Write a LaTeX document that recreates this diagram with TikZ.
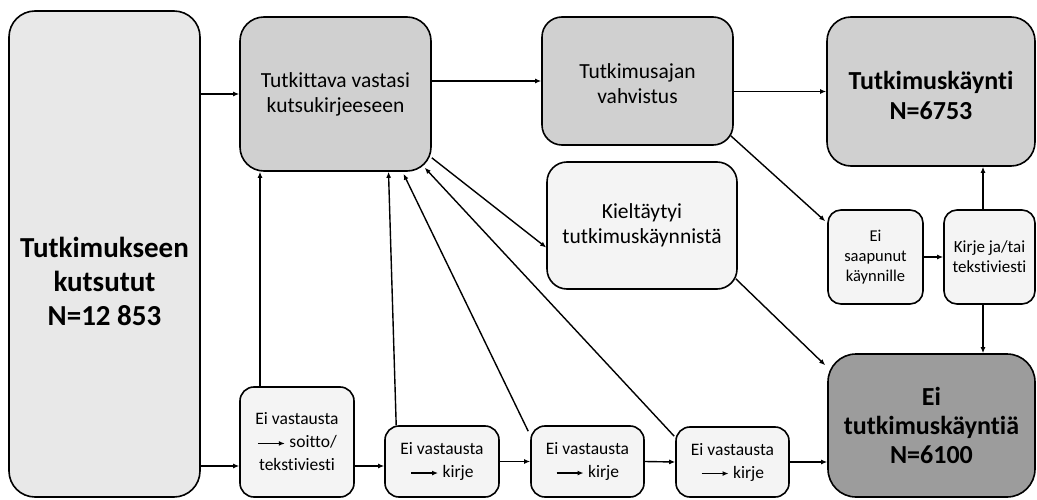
\documentclass[tikz,border=0pt]{standalone}
\usepackage{fontspec}
\setmainfont{Carlito}[Ligatures=NoCommon]
\usetikzlibrary{arrows.meta}
\definecolor{boxlight}{HTML}{E8E8E8}
\definecolor{boxmid}{HTML}{D0D0D0}
\definecolor{boxpale}{HTML}{F4F4F4}
\definecolor{boxdark}{HTML}{9C9C9C}
% short arrow set inside the text of the small boxes
\newcommand{\inarrow}{\tikz[x=1pt,y=1pt,baseline=0pt]\draw[line width=1.3pt,-{Latex[length=6pt,width=5pt]}] (0,4.5)--(27,4.5);}
\begin{document}
\begin{tikzpicture}[x=1pt,y=-1pt,
  box/.style={draw=black, line width=1.6pt, align=center, inner sep=2pt, rounded corners=#1},
  box/.default=20pt,
  flow/.style={line width=1.4pt, -{Latex[length=6pt,width=5pt]}},
  bigtxt/.style={font=\fontsize{29}{34}\selectfont\bfseries, align=center},
  boldtxt/.style={font=\fontsize{26}{29}\selectfont\bfseries, align=center},
  midtxt/.style={font=\fontsize{21.5}{25}\selectfont, align=center},
  smalltxt/.style={font=\fontsize{17.5}{23}\selectfont},
  tinytxt/.style={font=\fontsize{16.5}{20}\selectfont}]
\useasboundingbox (0,0) rectangle (1037,500);

% boxes
\node[box=26pt, fill=boxlight, minimum width=191pt, minimum height=486pt] (big) at (104.5,254) {};
\node[bigtxt] (bigtext) at (104.5,281) {Tutkimukseen\\kutsutut\\N=12 853};
\node[box=24pt, fill=boxmid, minimum width=191pt, minimum height=154pt, midtxt] (tut) at (335.5,94) {Tutkittava vastasi\\kutsukirjeeseen};
\node[box=20pt, fill=boxmid, minimum width=191pt, minimum height=128pt] (aja) at (637.5,81) {};
\node[midtxt] (ajatext) at (637.5,84) {Tutkimusajan\\vahvistus};
\node[box=24pt, fill=boxmid, minimum width=208pt, minimum height=149pt] (kay) at (931,91.5) {};
\node[boldtxt, font=\fontsize{26}{30}\selectfont\bfseries] (kaytext) at (931,95) {Tutkimuskäynti\\N=6753};
\node[box=20pt, fill=boxpale, minimum width=190pt, minimum height=127pt, midtxt] (kie) at (642,225.5) {Kieltäytyi\\tutkimuskäynnistä};
\node[box=13pt, fill=boxpale, minimum width=95pt, minimum height=94pt, tinytxt] (sa) at (875.5,257) {Ei\\saapunut\\käynnille};
\node[box=13pt, fill=boxpale, minimum width=91pt, minimum height=94pt, tinytxt, font=\fontsize{17}{20}\selectfont] (kir) at (989.5,257) {Kirje ja/tai\\tekstiviesti};
\node[box=28pt, fill=boxdark, minimum width=207pt, minimum height=143pt, boldtxt] (eik) at (931.5,425.5) {Ei\\tutkimuskäyntiä\\N=6100};
\node[box=14pt, fill=boxpale, minimum width=114pt, minimum height=110pt, smalltxt] (s0) at (297,442) {Ei vastausta\\\inarrow\ soitto/\\tekstiviesti};
\node[box=14pt, fill=boxpale, minimum width=114pt, minimum height=71pt, smalltxt] (k1) at (442,461.5) {Ei vastausta\\\inarrow\ kirje};
\node[box=14pt, fill=boxpale, minimum width=113pt, minimum height=71pt, smalltxt] (k2) at (587.5,461.5) {Ei vastausta\\\inarrow\ kirje};
\node[box=14pt, fill=boxpale, minimum width=113pt, minimum height=70pt, smalltxt] (k3) at (732.5,462) {Ei vastausta\\\inarrow\ kirje};

% helper coordinates for connector rows and columns
\coordinate (row) at (0,466);
\coordinate (col) at (260,0);
\coordinate (kcol) at (983,0);

% connectors
\draw[flow] (big.east |- tut.west) -- (tut.west);
\draw[flow] (big.east |- row) -- (s0.west |- row);
\draw[flow] (s0.east |- row) -- (k1.west |- row);
\draw[flow] (k1.east) -- (k2.west);
\draw[flow] (k2.east) -- (k3.west);
\draw[flow] (k3.east) -- (eik.west |- k3.east);
\draw[flow] (s0.north -| col) -- (tut.south -| col);
\draw[flow] ([xshift=12pt]k1.north west) -- ([xshift=53pt]tut.south);
\draw[flow] ([xshift=-2pt,yshift=-6pt]k2.north west) -- ([xshift=68pt,yshift=-2pt]tut.south);
\draw[flow] ([xshift=-1pt,yshift=-10pt]k3.north west) -- ([xshift=-7pt,yshift=4pt]tut.south east);
\draw[flow] ([yshift=14pt]tut.south east) -- ([yshift=-22pt]kie.west);
\draw[flow] (tut.east |- aja.west) -- (aja.west);
\draw[flow] (aja.east |- kay.west) -- (kay.west);
\draw[flow] ([xshift=-3pt,yshift=10pt]aja.south east) -- ([xshift=-2pt,yshift=-12pt]sa.north west);
\draw[flow] ([xshift=-2pt,yshift=11pt]kie.south east) -- ([xshift=-2pt,yshift=-12pt]eik.north west);
\draw[flow] (sa.east) -- (kir.west);
\draw[flow] (kir.north -| kcol) -- (kay.south -| kcol);
\draw[flow] (kir.south -| kcol) -- (eik.north -| kcol);
\end{tikzpicture}
\end{document}
